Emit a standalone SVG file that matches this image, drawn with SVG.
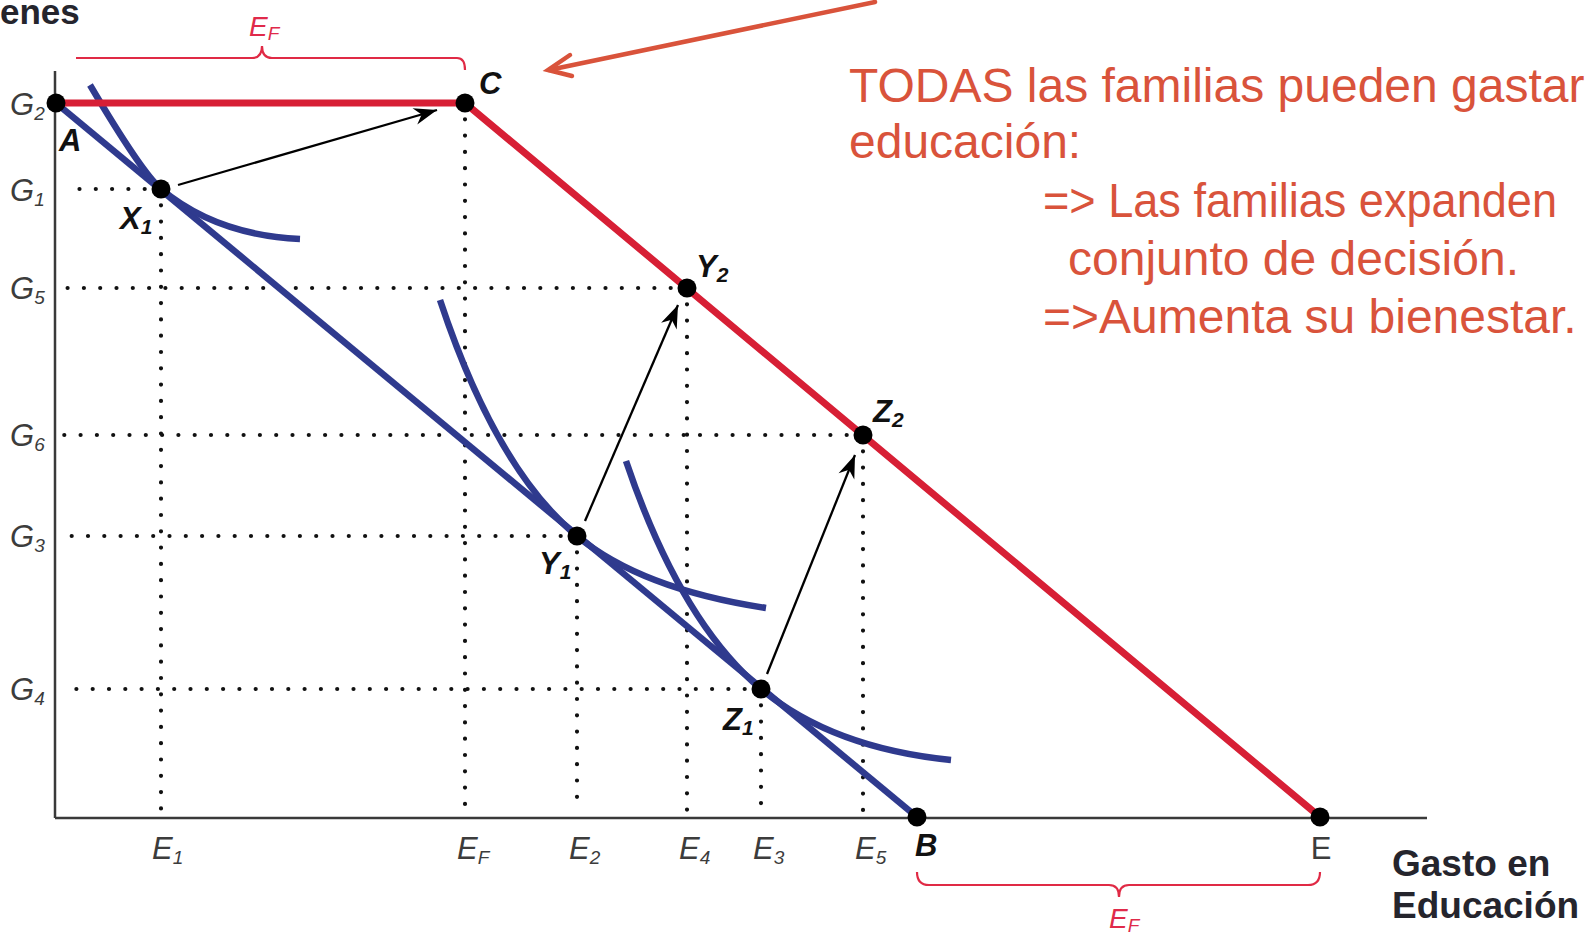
<svg xmlns="http://www.w3.org/2000/svg" width="1595" height="938" viewBox="0 0 1595 938">
<style>
.axis{stroke:#3a3a3a;stroke-width:2.5;fill:none}
.dot{stroke:#111;stroke-width:4.2;stroke-linecap:round;stroke-dasharray:0 16.3;fill:none}
.blue{stroke:#2f3a8e;stroke-width:6.5;fill:none;stroke-linecap:butt}
.red{stroke:#d71f35;stroke-width:7;fill:none;stroke-linejoin:round}
.brace{stroke:#e02a45;stroke-width:2.2;fill:none}
.pt{fill:#000}
.ax{font-family:"Liberation Sans Narrow","Liberation Sans",sans-serif;font-style:italic;font-size:31px;fill:#3c3c3c}
.sub{font-size:19px}
.lbl{font-family:"Liberation Sans",sans-serif;font-style:italic;font-weight:bold;font-size:31px;fill:#111}
.lsub{font-size:21px}
.ef{font-family:"Liberation Sans Narrow","Liberation Sans",sans-serif;font-style:italic;font-size:28px;fill:#e02a4a}
.title{font-family:"Liberation Sans",sans-serif;font-weight:bold;font-size:37px;fill:#25252d}
.note{font-family:"Liberation Sans",sans-serif;font-size:48px;fill:#d9533b}
.arr{stroke:#000;stroke-width:2.3;fill:none}
</style>
<defs>
<marker id="ah" markerUnits="userSpaceOnUse" markerWidth="30" markerHeight="20" viewBox="-24 -10 26 20" refX="0" refY="0" orient="auto">
<path d="M0,0 L-23,-8.5 L-16,0 L-23,8.5 Z" fill="#000"/>
</marker>
</defs>
<rect width="1595" height="938" fill="#fff"/>

<g id="axes">
<line class="axis" x1="55" y1="71" x2="55" y2="818"/>
<line class="axis" x1="55" y1="818" x2="1427" y2="818"/>
<text class="title" x="0" y="24" style="font-size:35px">enes</text>
<text class="title" x="1392" y="876">Gasto en</text>
<text class="title" x="1392" y="918">Educación</text>
</g>

<g id="grid">
<path class="dot" d="M161,189 H64"/>
<path class="dot" d="M687,288 H64"/>
<path class="dot" d="M863,435 H64"/>
<path class="dot" d="M577,536 H64"/>
<path class="dot" d="M761,689 H64"/>
<path class="dot" d="M161,189 V812"/>
<path class="dot" d="M465,103 V812"/>
<path class="dot" d="M577,536 V812"/>
<path class="dot" d="M687,288 V812"/>
<path class="dot" d="M761,689 V812"/>
<path class="dot" d="M863,435 V812"/>
</g>

<g id="y-labels">
<text class="ax" x="10" y="115">G<tspan class="sub" dy="5">2</tspan></text>
<text class="ax" x="10" y="201">G<tspan class="sub" dy="5">1</tspan></text>
<text class="ax" x="10" y="299">G<tspan class="sub" dy="5">5</tspan></text>
<text class="ax" x="10" y="446">G<tspan class="sub" dy="5">6</tspan></text>
<text class="ax" x="10" y="547">G<tspan class="sub" dy="5">3</tspan></text>
<text class="ax" x="10" y="700">G<tspan class="sub" dy="5">4</tspan></text>
</g>

<g id="x-labels">
<text class="ax" x="152" y="859">E<tspan class="sub" dy="5">1</tspan></text>
<text class="ax" x="457" y="859">E<tspan class="sub" dy="5">F</tspan></text>
<text class="ax" x="569" y="859">E<tspan class="sub" dy="5">2</tspan></text>
<text class="ax" x="679" y="859">E<tspan class="sub" dy="5">4</tspan></text>
<text class="ax" x="753" y="859">E<tspan class="sub" dy="5">3</tspan></text>
<text class="ax" x="855" y="859">E<tspan class="sub" dy="5">5</tspan></text>
<text class="ax" x="1321" y="859" text-anchor="middle" style="font-style:normal">E</text>
</g>

<g id="budget-blue">
<path class="blue" d="M56,103 L917,817"/>
</g>
<g id="indiff-1">
<path class="blue" d="M90,85 Q142,173 161,189 Q216,235 300,239"/>
</g>
<g id="indiff-2">
<path class="blue" d="M440,300 Q496,469 577,536 Q641,589 766,608"/>
</g>
<g id="indiff-3">
<path class="blue" d="M626,461 Q680,621 761,689 Q832,748 951,760"/>
</g>
<g id="budget-red">
<path class="red" d="M56,103 H465 L1320,817"/>
</g>

<g id="brace-top">
<path class="brace" d="M76,58 H252 Q262,58 262,46 Q262,58 272,58 H457 Q465,58 465,70"/>
<text class="ef" x="249" y="36">E<tspan class="sub" dy="4">F</tspan></text>
</g>
<g id="brace-bottom">
<path class="brace" d="M917,872 Q917,885 929,885 H1109 Q1119,885 1119,897 Q1119,885 1129,885 H1308 Q1320,885 1320,872"/>
<text class="ef" x="1109" y="928">E<tspan class="sub" dy="4">F</tspan></text>
</g>

<g id="node-A"><circle class="pt" cx="56" cy="103" r="9.5"/><text class="lbl" x="59" y="151">A</text></g>
<g id="node-C"><circle class="pt" cx="465" cy="103" r="9.5"/><text class="lbl" x="479" y="94">C</text></g>
<g id="node-X1"><circle class="pt" cx="161" cy="189" r="9.5"/><text class="lbl" x="120" y="229">X<tspan class="lsub" dy="5">1</tspan></text></g>
<g id="node-Y1"><circle class="pt" cx="577" cy="536" r="9.5"/><text class="lbl" x="539" y="574">Y<tspan class="lsub" dy="5">1</tspan></text></g>
<g id="node-Z1"><circle class="pt" cx="761" cy="689" r="9.5"/><text class="lbl" x="723" y="730">Z<tspan class="lsub" dy="5">1</tspan></text></g>
<g id="node-Y2"><circle class="pt" cx="687" cy="288" r="9.5"/><text class="lbl" x="696" y="277">Y<tspan class="lsub" dy="5">2</tspan></text></g>
<g id="node-Z2"><circle class="pt" cx="863" cy="435" r="9.5"/><text class="lbl" x="873" y="422">Z<tspan class="lsub" dy="5">2</tspan></text></g>
<g id="node-B"><circle class="pt" cx="917" cy="817" r="9.5"/><text class="lbl" x="915" y="856">B</text></g>
<g id="node-E"><circle class="pt" cx="1320" cy="817" r="9.5"/></g>

<g id="connectors">
<line class="arr" x1="178" y1="185" x2="437" y2="110" marker-end="url(#ah)"/>
<line class="arr" x1="585" y1="521" x2="678" y2="305" marker-end="url(#ah)"/>
<line class="arr" x1="767" y1="674" x2="855" y2="455" marker-end="url(#ah)"/>
<line x1="875" y1="2" x2="549" y2="70" stroke="#d9533b" stroke-width="4.5" stroke-linecap="round"/>
<path d="M570,55 L548,70 L572,76" stroke="#d9533b" stroke-width="4.5" fill="none" stroke-linecap="round" stroke-linejoin="miter"/>
</g>

<g id="note">
<text class="note" x="849" y="102">TODAS las familias pueden gastar</text>
<text class="note" x="849" y="158">educación:</text>
<text class="note" x="1043" y="217" textLength="514" lengthAdjust="spacingAndGlyphs">=&gt; Las familias expanden</text>
<text class="note" x="1068" y="275">conjunto de decisión.</text>
<text class="note" x="1043" y="333">=&gt;Aumenta su bienestar.</text>
</g>
</svg>
